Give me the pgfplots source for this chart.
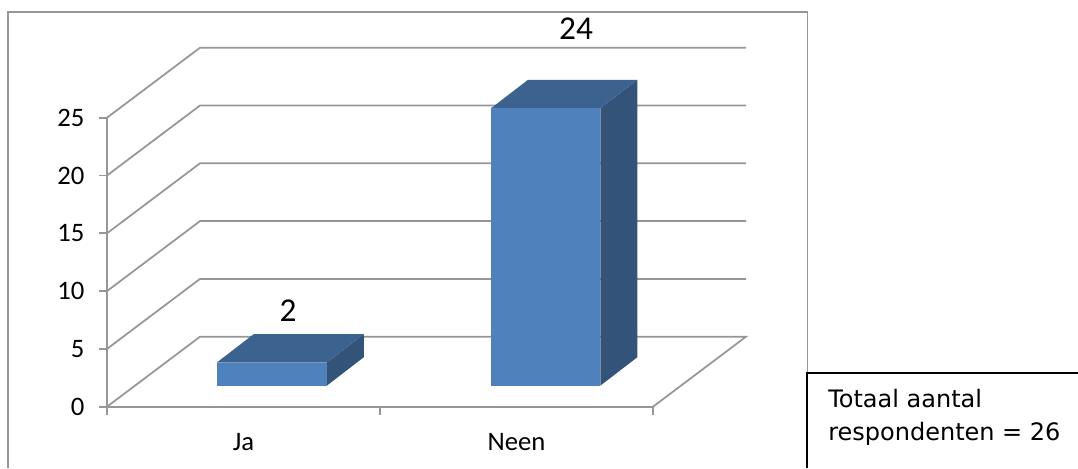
\documentclass[border=0pt]{standalone}
\usepackage{pgfplots}
\pgfplotsset{compat=1.18}
\usepackage{fontspec}
\setmainfont{Carlito}
\newfontfamily\verd{DejaVu Sans}
\definecolor{gridg}{HTML}{969696}
\definecolor{barfront}{HTML}{4F81BD}
\definecolor{bartop}{HTML}{3C6290}
\definecolor{barside}{HTML}{335379}
\begin{document}
\begin{tikzpicture}[x=0.75pt,y=0.75pt]
\useasboundingbox (0,0) rectangle (1078,468);
% outer chart frame
\draw[gridg,line width=1.4pt] (8,0) -- (8,456) -- (807.5,456) -- (807.5,95);
% text box
\draw[black,line width=1.5pt] (1078,95) -- (807,95) -- (807,0);
\node[anchor=base west,inner sep=0pt,font=\verd\fontsize{18pt}{20pt}\selectfont] at (828,61) {Totaal aantal};
\node[anchor=base west,inner sep=0pt,font=\verd\fontsize{18pt}{20pt}\selectfont] at (828,28) {respondenten = 26};
\begin{axis}[
  at={(80.25pt,45.975pt)},anchor=south west,
  scale only axis,width=409.5pt,height=216.75pt,
  xmin=0,xmax=2,ymin=0,ymax=25,clip=false,
  axis lines=left,axis line style={-,gridg,line width=1.3pt},
  tick style={gridg,line width=1.3pt},
  major tick length=6pt,tick align=outside,
  xtick={0,1,2},xticklabels={},
  ytick={0,5,10,15,20,25},
  extra x ticks={0.5,1.5},extra x tick labels={Ja,Neen},
  extra x tick style={major tick length=0pt,tick style={draw=none},
    xticklabel style={yshift=-16.5pt}},
  tick label style={font=\fontsize{20pt}{22pt}\selectfont,text=black},
  /pgf/number format/assume math mode=true,
  yticklabel style={xshift=-7.5pt},
]
% walls
\addplot[gridg,line width=1.3pt] coordinates {(0,0) (0.3407,6.055) (2.3407,6.055) (2,0)};
\addplot[gridg,line width=1.3pt] coordinates {(0,5) (0.3407,11.055) (2.3407,11.055)};
\addplot[gridg,line width=1.3pt] coordinates {(0,10) (0.3407,16.055) (2.3407,16.055)};
\addplot[gridg,line width=1.3pt] coordinates {(0,15) (0.3407,21.055) (2.3407,21.055)};
\addplot[gridg,line width=1.3pt] coordinates {(0,20) (0.3407,26.055) (2.3407,26.055)};
\addplot[gridg,line width=1.3pt] coordinates {(0,25) (0.3407,31.055) (2.3407,31.055)};
% bar Ja (value 2)
\addplot[fill=barside,draw=none] coordinates {(0.805,1.817) (0.9405,4.277) (0.9405,6.277) (0.805,3.817)} -- cycle;
\addplot[fill=bartop,draw=none] coordinates {(0.402,3.817) (0.5375,6.277) (0.9405,6.277) (0.805,3.817)} -- cycle;
\addplot[fill=barfront,draw=none] coordinates {(0.402,1.817) (0.805,1.817) (0.805,3.817) (0.402,3.817)} -- cycle;
% bar Neen (value 24)
\addplot[fill=barside,draw=none] coordinates {(1.807,1.817) (1.9425,4.277) (1.9425,28.277) (1.807,25.817)} -- cycle;
\addplot[fill=bartop,draw=none] coordinates {(1.4066,25.817) (1.5421,28.277) (1.9425,28.277) (1.807,25.817)} -- cycle;
\addplot[fill=barfront,draw=none] coordinates {(1.4066,1.817) (1.807,1.817) (1.807,25.817) (1.4066,25.817)} -- cycle;
\node[font=\fontsize{25pt}{27pt}\selectfont,inner sep=0pt] at (axis cs:0.663,8.28) {2};
\node[font=\fontsize{25pt}{27pt}\selectfont,inner sep=0pt] at (axis cs:1.718,32.67) {24};
\end{axis}
\end{tikzpicture}
\end{document}
